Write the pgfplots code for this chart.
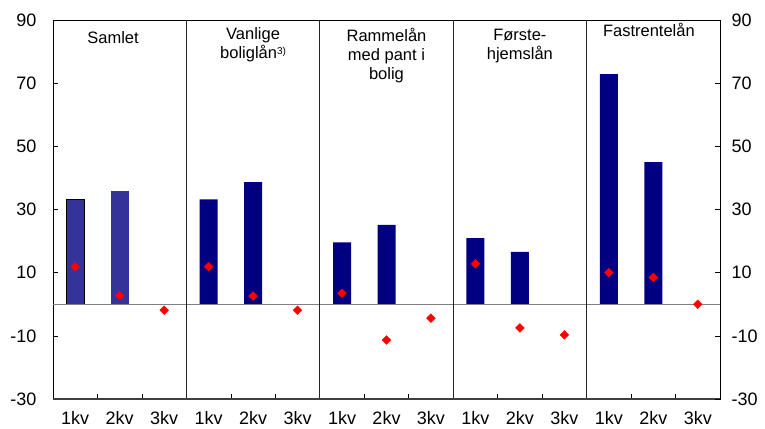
\documentclass[border=0pt]{standalone}
\usepackage{pgfplots}
\pgfplotsset{compat=1.18}
\usepackage{fontspec}
\setmainfont{Liberation Sans}
\usetikzlibrary{calc}
\definecolor{navybar}{RGB}{0,0,128}
\definecolor{samletbar}{RGB}{51,51,153}
\definecolor{zeroline}{RGB}{128,128,128}
\definecolor{dotred}{RGB}{255,0,0}
\begin{document}
\begin{tikzpicture}
\pgfplotsset{
  base/.style={
    width=667pt, height=379pt, scale only axis,
    xmin=-0.5, xmax=14.5, ymin=-30, ymax=90,
    ytick={-30,-10,10,30,50,70,90},
    tick label style={font=\fontsize{18}{20}\selectfont},
    /pgf/number format/assume math mode=true,
    major tick length=5pt,
    tick align=inside,
    clip=false,
  }
}
\begin{axis}[base,
  axis line style={black, line width=0.8pt},
  ytick pos=left,
  yticklabel style={xshift=-13pt},
  xtick pos=bottom,
  xtick={0.5,1.5,3.5,4.5,6.5,7.5,9.5,10.5,12.5,13.5},
  xticklabels={},
  tick style={black, line width=0.6pt},
]
% Samlet
\addplot[ybar, bar shift=0pt, bar width=18pt, fill=samletbar, draw=black, line width=0.6pt] coordinates {(0,33.3)};
\addplot[ybar, bar shift=0pt, bar width=18pt, fill=samletbar, draw=none] coordinates {(1,35.9)};
% other panels
\addplot[ybar, bar shift=0pt, bar width=18pt, fill=navybar, draw=none] coordinates {
 (3,33.2) (4,38.7)
 (6,19.6) (7,25.1)
 (9,20.9) (10,16.6)
 (12,72.9) (13,45.0)
};
% zero line and separators
\draw[zeroline, line width=1.4pt] (axis cs:-0.5,0) -- (axis cs:14.5,0);
\pgfplotsinvokeforeach{2.5,5.5,8.5,11.5}{
  \draw[black!85, line width=0.8pt] (axis cs:#1,-30) -- (axis cs:#1,90);
}
\draw[black!75, line width=1.5pt] (axis cs:-0.5,-30) -- (axis cs:14.5,-30);
% diamonds
\addplot[only marks, mark=square*, mark size=3.1pt, mark options={rotate=45, fill=dotred, draw=dotred}] coordinates {
 (0,11.9) (1,2.7) (2,-1.9)
 (3,11.9) (4,2.6) (5,-1.9)
 (6,3.5) (7,-11.3) (8,-4.4)
 (9,12.8) (10,-7.5) (11,-9.7)
 (12,10.0) (13,8.5) (14,0)
};
% panel labels
\begin{scope}[every node/.style={font=\fontsize{16.5}{19}\selectfont, align=center, inner sep=0pt, anchor=north}]
\node at (axis cs:0.85,86.3) {Samlet};
\node at (axis cs:4,87.6) {Vanlige\\boliglån{\fontsize{10}{10}\selectfont\raisebox{4pt}{3)}}};
\node at (axis cs:7,87.6) {Rammelån\\med pant i\\bolig};
\node at (axis cs:10,87.3) {Første-\\hjemslån};
\node at (axis cs:12.9,88.9) {Fastrentelån};
\end{scope}
\end{axis}
\begin{axis}[base,
  axis line style={draw=none},
  ytick pos=right,
  yticklabel pos=right,
  yticklabel style={xshift=8pt},
  xtick pos=bottom,
  xtick={0,...,14},
  xticklabels={1kv,2kv,3kv,1kv,2kv,3kv,1kv,2kv,3kv,1kv,2kv,3kv,1kv,2kv,3kv},
  xticklabel style={yshift=-9pt},
  x tick style={draw=none},
  y tick style={black, line width=0.6pt},
]
\end{axis}
\pgfresetboundingbox
\path ($(current axis.south west)+(-53pt,-30pt)$) rectangle ($(current axis.north east)+(45pt,20pt)$);
\end{tikzpicture}
\end{document}
